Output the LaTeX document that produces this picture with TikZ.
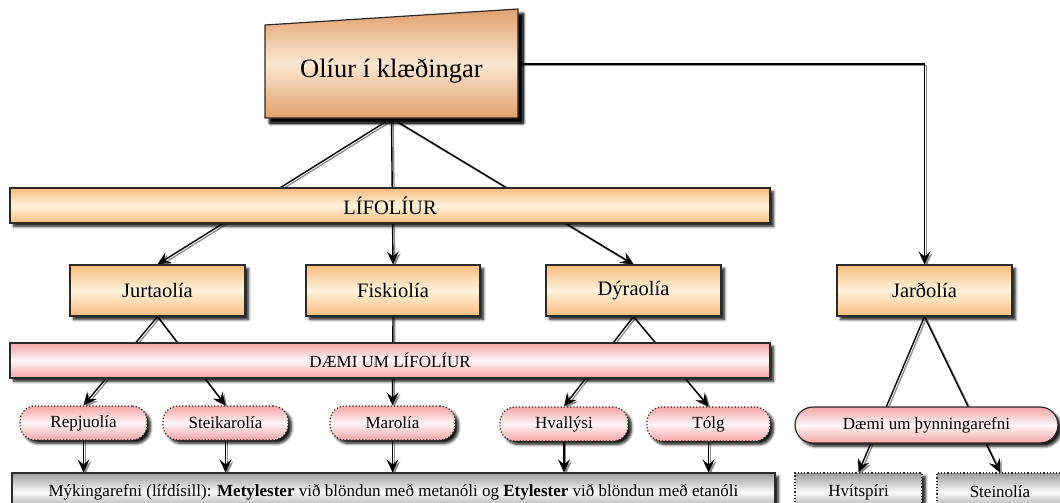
\documentclass[tikz,border=0pt]{standalone}
\usepackage{fontspec}
\setmainfont{Liberation Serif}
\usetikzlibrary{arrows.meta,shadows.blur,backgrounds}
\definecolor{orA}{HTML}{F9BC7C}
\definecolor{orM}{HTML}{FFF3DC}
\definecolor{tiA}{HTML}{E2A06E}
\definecolor{tiM}{HTML}{FCE6D0}
\definecolor{pkA}{HTML}{F4A4A6}
\definecolor{pkM}{HTML}{FFF6F6}
\definecolor{gyA}{HTML}{9C9C9C}
\definecolor{gyM}{HTML}{FAFAFA}
\definecolor{edgec}{HTML}{2A2A2A}
\tikzset{
  box/.style={draw=edgec, line width=1.2pt, inner sep=0pt,
    blur shadow={shadow xshift=3.5pt, shadow yshift=-3.5pt, shadow blur steps=6,
                 shadow blur radius=2.5pt, shadow opacity=90}},
  orangebox/.style={box, top color=orA, bottom color=orA, middle color=orM,
    font=\fontsize{20.5}{24}\selectfont},
  pinkbar/.style={box, top color=pkA, bottom color=pkA, middle color=pkM,
    font=\fontsize{17}{20}\selectfont},
  pill/.style={box, dotted, rounded corners=15pt, top color=pkA, bottom color=pkA,
    middle color=pkM, minimum height=34, font=\fontsize{17}{20}\selectfont},
  greybox/.style={box, top color=gyA, bottom color=gyA, middle color=gyM,
    minimum height=38, font=\fontsize{17}{20}\selectfont},
  conn/.style={draw=black, line width=1.4pt,
    preaction={draw=black!45, line width=1.3pt, transform canvas={shift={(1.8pt,-1.8pt)}}}},
  arr/.style={conn, -{Stealth[length=13pt,width=12pt,inset=5pt]}},
}
\begin{document}
\begin{tikzpicture}[x=1pt,y=-1pt]
\useasboundingbox (0,0) rectangle (1060,503);
\clip (0,0) rectangle (1060,503);
% title shape
\path[box, top color=tiA, bottom color=tiA, middle color=tiM,
  blur shadow={shadow xshift=5pt, shadow yshift=-5pt, shadow blur steps=6,
               shadow blur radius=3pt, shadow opacity=95}]
  (265,25) -- (518,9) -- (518,118) -- (265,118) -- cycle;
\node (top) [inner sep=0pt, minimum width=253, minimum height=93,
  font=\fontsize{26.5}{30}\selectfont] at (391.5,71.5) {Olíur í klæðingar};
% level 1
\node (lif) [orangebox, minimum width=760, minimum height=35] at (390,205.5) {LÍFOLÍUR};
\node (jurt) [orangebox, minimum width=175, minimum height=51] at (157.5,290.5) {Jurtaolía};
\node (fisk) [orangebox, minimum width=174, minimum height=51] at (393,290.5) {Fiskiolía};
\node (dyr) [orangebox, minimum width=175, minimum height=51] at (633.5,290.5) {Dýraolía};
\node (jard) [orangebox, minimum width=175, minimum height=51] at (924.5,290.5) {Jarðolía};
% examples
\node (daemi) [pinkbar, minimum width=760, minimum height=35] at (390,360.5) {DÆMI UM LÍFOLÍUR};
\node (repj) [pill, minimum width=127] at (83.5,423) {Repjuolía};
\node (steik) [pill, minimum width=125] at (225.5,423) {Steikarolía};
\node (mar) [pill, minimum width=125] at (392.5,423) {Marolía};
\node (hval) [pill, minimum width=128] at (564,424) {Hvallýsi};
\node (tolg) [pill, minimum width=123] at (708.5,424) {Tólg};
\node (thyn) [box, rounded corners=18pt, top color=pkA, bottom color=pkA, middle color=pkM,
  minimum width=263, minimum height=36, font=\fontsize{17}{20}\selectfont]
  at (926.5,425) {Dæmi um þynningarefni};
% bottom
\node (bot) [greybox, minimum width=763] at (393.5,492)
  {Mýkingarefni (lífdísill): \textbf{Metylester} við blöndun með metanóli og \textbf{Etylester} við blöndun með etanóli};
\node (hvit) [greybox, dotted, minimum width=127] at (858.5,492) {Hvítspíri};
\node (stein) [greybox, dotted, minimum width=126] at (1000,492) {Steinolía};
% connectors
\begin{scope}[on background layer]
\draw[arr] (top.south) -- (jurt.north);
\draw[arr] (top.south) -- (fisk.north);
\draw[arr] (top.south) -- (dyr.north);
\draw[arr] ([yshift=7.5pt]top.east) -| (jard.north);
\draw[arr] (jurt.south) -- (repj.north);
\draw[arr] (jurt.south) -- (steik.north);
\draw[arr] (fisk.south) -- (mar.north);
\draw[arr] (dyr.south) -- (hval.north);
\draw[arr] (dyr.south) -- (tolg.north);
\draw[arr] (jard.south) -- (hvit.north);
\draw[arr] (jard.south) -- (stein.north);
\draw[arr] (repj.south) -- (repj.south |- bot.north);
\draw[arr] (steik.south) -- (steik.south |- bot.north);
\draw[arr] (mar.south) -- (mar.south |- bot.north);
\draw[arr] (hval.south) -- (hval.south |- bot.north);
\draw[arr] (tolg.south) -- (tolg.south |- bot.north);
\end{scope}
\end{tikzpicture}
\end{document}
